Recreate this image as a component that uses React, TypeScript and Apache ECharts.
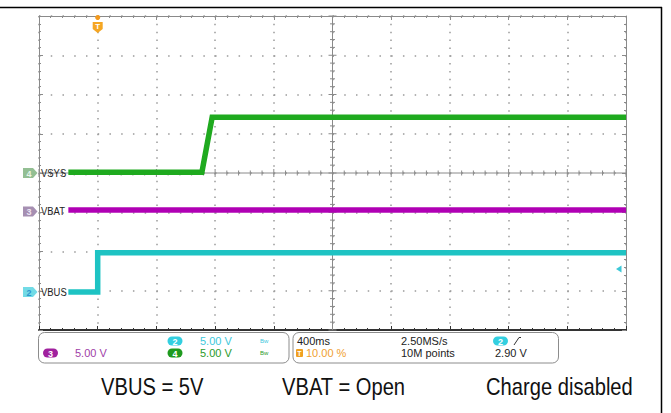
import React, { useEffect, useRef } from "react";
import * as echarts from "echarts";

// Time axis (ms), 400 ms/div, trigger at 10 % of record
const timeMin = -400;
const timeMax = 3600;
const timeStep = 400;
const voltsPerDiv = 5;

// Channel offsets (divisions from screen centre)
const vsysOffsetDiv = 0;
const vbatOffsetDiv = -0.98;
const vbusOffsetDiv = -3.03;

// Traces (time in ms, value in volts)
const vsysTime = [-200, 710, 780, 3600];
const vsysVolt = [0.1, 0.1, 7.1, 7.1];
const vbatTime = [-200, 3600];
const vbatVolt = [0.2, 0.2];
const vbusTime = [-200, 0, 0, 3600];
const vbusVolt = [0, 0, 5.0, 5.0];

const captions = ["VBUS = 5V", "VBAT = Open", "Charge disabled"];

const toSeries = (t: number[], v: number[], off: number) =>
  t.map((tt, i) => [tt, off + v[i] / voltsPerDiv]);

const frameColor = "#8a8a8a";

const frameAxis = (pos: string, dark = false) => ({
  type: "value",
  position: pos,
  min: pos === "left" || pos === "right" ? -4 : timeMin,
  max: pos === "left" || pos === "right" ? 4 : timeMax,
  interval: pos === "left" || pos === "right" ? 1 : timeStep,
  axisLine: { show: true, onZero: false, lineStyle: { color: dark ? "#333" : frameColor, width: dark ? 2 : 1 } },
  axisTick: { show: true, inside: true, length: 4, lineStyle: { color: dark ? "#333" : frameColor } },
  minorTick: { show: true, splitNumber: 5, length: 2, lineStyle: { color: dark ? "#333" : frameColor } },
  axisLabel: { show: false },
  splitLine: { show: false },
});

export default function App() {
  const ref = useRef<HTMLDivElement>(null);
  useEffect(() => {
    if (!ref.current) return;
    const chart = echarts.init(ref.current, undefined, { renderer: "svg" });

    const xAxis0: any = frameAxis("bottom", true);
    xAxis0.splitLine = { show: true, lineStyle: { color: "#9a9a9a", width: 1.5, type: [1.5, 6.35] } };
    const yAxis0: any = frameAxis("left");
    yAxis0.splitLine = { show: true, lineStyle: { color: "#9a9a9a", width: 1.5, type: [1.5, 10.24] } };

    const centreCross = {
      type: "custom",
      silent: true,
      z: 2,
      xAxisIndex: 0,
      yAxisIndex: 0,
      data: [[(timeMin + timeMax) / 2, 0]],
      renderItem: (_params: any, api: any) => {
        const children: any[] = [];
        const c = api.coord([(timeMin + timeMax) / 2, 0]);
        const l = api.coord([timeMin, 0]);
        const r = api.coord([timeMax, 0]);
        const t = api.coord([(timeMin + timeMax) / 2, 4]);
        const b = api.coord([(timeMin + timeMax) / 2, -4]);
        const st = { stroke: "#8a8a8a", lineWidth: 1 };
        children.push({ type: "line", shape: { x1: l[0], y1: c[1], x2: r[0], y2: c[1] }, style: st });
        children.push({ type: "line", shape: { x1: c[0], y1: t[1], x2: c[0], y2: b[1] }, style: st });
        const nx = ((timeMax - timeMin) / timeStep) * 5;
        for (let k = 0; k <= nx; k++) {
          const p = api.coord([timeMin + (k * timeStep) / 5, 0]);
          const len = k % 5 === 0 ? 4 : 2.5;
          children.push({ type: "line", shape: { x1: p[0], y1: c[1] - len, x2: p[0], y2: c[1] + len }, style: st });
        }
        for (let k = 0; k <= 40; k++) {
          const p = api.coord([(timeMin + timeMax) / 2, -4 + k * 0.2]);
          const len = k % 5 === 0 ? 4 : 2.5;
          children.push({ type: "line", shape: { x1: c[0] - len, y1: p[1], x2: c[0] + len, y2: p[1] }, style: st });
        }
        return { type: "group", children };
      },
    };

    const lineSeries = (name: string, data: number[][], color: string, width: number) => ({
      name,
      type: "line",
      data,
      symbol: "none",
      showSymbol: false,
      z: 5,
      xAxisIndex: 0,
      yAxisIndex: 0,
      lineStyle: { color, width, cap: "butt", join: "miter" },
      silent: true,
    });

    const txt = (text: string, x: number, y: number, fill: string, font: string, extra: any = {}) => ({
      type: "text",
      x,
      y,
      z: 20,
      ...extra,
      style: { text, fill, font, textAlign: extra.align || "left", textVerticalAlign: "middle" },
    });

    const marker = (y: number, fill: string, num: string, numColor: string) => [
      {
        type: "polygon",
        z: 20,
        shape: { points: [[23, y - 5], [33, y - 5], [37.5, y], [33, y + 5], [23, y + 5]] },
        style: { fill },
      },
      txt(num, 29, y + 0.5, numColor, "bold 9px Arial", { align: "center" }),
    ];

    const badge = (cx: number, cy: number, fill: string, num: string) => [
      { type: "rect", z: 20, shape: { x: cx - 7.5, y: cy - 4.5, width: 15, height: 9, r: 4.5 }, style: { fill } },
      txt(num, cx, cy + 0.5, "#ffffff", "bold 9px Arial", { align: "center" }),
    ];

    const panelFont = "11px Arial";

    const graphic: any[] = [
      // outer frame
      { type: "line", z: 20, shape: { x1: 0, y1: 7.5, x2: 662, y2: 7.5 }, style: { stroke: "#000", lineWidth: 1.5 } },
      { type: "line", z: 20, shape: { x1: 661.5, y1: 7, x2: 661.5, y2: 413 }, style: { stroke: "#000", lineWidth: 1.5 } },
      // channel markers and labels
      ...marker(173, "#93bf93", "4", "#e9f5e9"),
      ...marker(211.5, "#a68fb2", "3", "#efe6f3"),
      ...marker(292, "#72dbe6", "2", "#2f96cf"),
      txt("VSYS", 41, 173, "#222", "11px Arial", { scaleX: 0.86 }),
      txt("VBAT", 41, 211, "#222", "11px Arial", { scaleX: 0.86 }),
      txt("VBUS", 41, 292, "#222", "11px Arial", { scaleX: 0.86 }),
      // trigger position marker
      { type: "circle", z: 20, shape: { cx: 97.7, cy: 17.5, r: 2.5 }, style: { fill: "#f39a1e" } },
      {
        type: "polygon",
        z: 20,
        shape: { points: [[92.7, 22], [102.7, 22], [102.7, 29], [97.7, 33], [92.7, 29]] },
        style: { fill: "#f5a623" },
      },
      txt("T", 97.7, 26.5, "#ffffff", "bold 8px Arial", { align: "center" }),
      // trigger level marker
      {
        type: "polygon",
        z: 20,
        shape: { points: [[616, 269], [621.5, 265.5], [621.5, 272.5]] },
        style: { fill: "#3cc8d8" },
      },
      // info panel
      { type: "rect", z: 20, shape: { x: 38.5, y: 332.5, width: 250.5, height: 30.5, r: 6 }, style: { fill: "none", stroke: "#8c8c8c", lineWidth: 1 } },
      { type: "rect", z: 20, shape: { x: 293, y: 332.5, width: 265.5, height: 30.5, r: 6 }, style: { fill: "none", stroke: "#8c8c8c", lineWidth: 1 } },
      ...badge(50.5, 353, "#a0209e", "3"),
      txt("5.00 V", 75, 353, "#a040a8", panelFont),
      ...badge(175, 341, "#33cfe0", "2"),
      txt("5.00 V", 200, 341, "#3cc8dc", panelFont),
      ...badge(175, 353, "#1e9a1e", "4"),
      txt("5.00 V", 200, 353, "#2a9a2a", panelFont),
      txt("Bw", 260, 341, "#3cc8dc", "6px Arial"),
      txt("Bw", 260, 353, "#2a9a2a", "6px Arial"),
      txt("400ms", 297, 341, "#222", panelFont),
      { type: "rect", z: 20, shape: { x: 296, y: 349, width: 7, height: 8, r: 1 }, style: { fill: "#f0a020" } },
      txt("T", 299.5, 353.5, "#ffffff", "bold 7px Arial", { align: "center" }),
      txt("10.00 %", 306, 353, "#f0a030", panelFont),
      txt("2.50MS/s", 401, 341, "#222", panelFont),
      txt("10M points", 401, 353, "#222", panelFont),
      ...badge(500.5, 341, "#33cfe0", "2"),
      { type: "polyline", z: 20, shape: { points: [[514, 345], [519, 337.5], [521, 337.5]] }, style: { stroke: "#333", lineWidth: 1, fill: "none" } },
      txt("2.90 V", 495, 353, "#222", panelFont),
      // caption
      txt(captions[0], 101, 387, "#111", '24px "Liberation Sans", Arial', { scaleX: 0.84 }),
      txt(captions[1], 282, 387, "#111", '24px "Liberation Sans", Arial', { scaleX: 0.84 }),
      txt(captions[2], 486, 387, "#111", '24px "Liberation Sans", Arial', { scaleX: 0.84 }),
    ];

    chart.setOption({
      animation: false,
      backgroundColor: "#ffffff",
      grid: { left: 39, top: 16, width: 587, height: 314, containLabel: false },
      xAxis: [xAxis0, frameAxis("top")],
      yAxis: [yAxis0, frameAxis("right")],
      series: [
        centreCross,
        lineSeries("VBAT", toSeries(vbatTime, vbatVolt, vbatOffsetDiv), "#b000b4", 5.5),
        lineSeries("VBUS", toSeries(vbusTime, vbusVolt, vbusOffsetDiv), "#1ec3c3", 5.5),
        lineSeries("VSYS", toSeries(vsysTime, vsysVolt, vsysOffsetDiv), "#1faa1f", 5.5),
      ],
      graphic,
    });
    return () => chart.dispose();
  }, []);
  return (
    <div
      ref={ref}
      style={{ position: "fixed", left: 0, top: 0, width: 671, height: 413, background: "#fff" }}
    />
  );
}
